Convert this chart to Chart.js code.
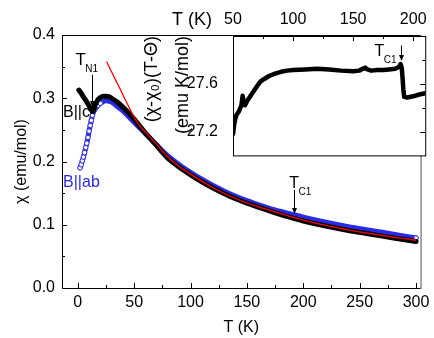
<!DOCTYPE html>
<html>
<head>
<meta charset="utf-8">
<script src="https://cdn.jsdelivr.net/npm/chart.js@4.4.1/dist/chart.umd.min.js"></script>
<style>
  html, body { margin: 0; padding: 0; background: #fff; }
  #wrap { position: relative; width: 434px; height: 338px; }
  #mainChart { position: absolute; left: 0; top: 0; }
  #insetChart { position: absolute; left: 130px; top: 0; }
</style>
</head>
<body>
<div id="wrap">
  <canvas id="mainChart" width="434" height="338"></canvas>
  <canvas id="insetChart" width="304" height="180"></canvas>
</div>
<script>
// main panel: chi(T) for B||ab, B||c and the fit
var tAb = [2, 3, 4, 5, 6, 7, 8, 9, 10, 11, 12, 13, 14, 15, 16, 17, 18, 20, 22, 24, 26, 28, 30,
    35, 40, 45, 50, 55, 60, 65, 70, 75, 80, 90, 100, 110, 120, 130, 140, 150, 160, 170, 180,
    190, 200, 220, 240, 260, 280, 300];
var chiAb = [0.190, 0.195, 0.201, 0.207, 0.214, 0.222, 0.229, 0.238, 0.248, 0.257, 0.265, 0.273,
    0.279, 0.282, 0.285, 0.287, 0.289, 0.292, 0.294, 0.296, 0.296, 0.295, 0.294,
    0.287, 0.280, 0.271, 0.262, 0.253, 0.244, 0.235, 0.226, 0.217, 0.209, 0.195, 0.183, 0.172,
    0.162, 0.153, 0.145, 0.138, 0.132, 0.126, 0.121, 0.1165, 0.112, 0.104, 0.097, 0.091, 0.085, 0.079];

var tC = [1, 3, 5, 7, 9, 11, 13, 14, 15, 16, 17, 18, 20, 22, 25, 28, 30, 35, 40, 45, 50, 55, 60,
    65, 70, 75, 80, 90, 100, 110, 120, 130, 140, 150, 160, 170, 180, 190, 200, 220, 240, 260, 280, 300];
var chiC = [0.313, 0.308, 0.302, 0.297, 0.291, 0.285, 0.279, 0.282, 0.287, 0.292, 0.295, 0.298,
    0.301, 0.303, 0.303, 0.302, 0.300, 0.294, 0.286, 0.277, 0.267, 0.256, 0.245, 0.235, 0.225,
    0.2145, 0.205, 0.191, 0.179, 0.168, 0.158, 0.149, 0.141, 0.134, 0.128, 0.122, 0.116, 0.111,
    0.106, 0.098, 0.091, 0.085, 0.079, 0.0735];

var tFit = [25.5, 29, 33.5, 38, 42, 46.5, 51, 55, 60, 70, 80, 90, 100, 120, 140, 160, 180, 200, 220, 240, 260, 280, 300];
var chiFit = [0.358, 0.345, 0.329, 0.313, 0.298, 0.282, 0.267, 0.256, 0.2465, 0.227, 0.207,
    0.192, 0.180, 0.1585, 0.1415, 0.1285, 0.1175, 0.1075, 0.099, 0.092, 0.086, 0.0805, 0.0755];

var mainXTicks = [0, 50, 100, 150, 200, 250, 300];
var mainXMinor = [25, 75, 125, 175, 225, 275];
var mainYTicks = [0, 0.1, 0.2, 0.3, 0.4];
var mainYMinor = [0.05, 0.15, 0.25, 0.35];

// inset: (chi - chi0)(T - Theta) vs T
var tInset = [50, 51, 52, 53, 55, 57, 58, 59, 60, 62, 64, 66, 68, 70, 73, 76, 80, 85, 90, 95, 100,
    110, 120, 130, 140, 150, 155, 158, 160, 162, 165, 170, 175, 180, 185, 188,
    189.5, 190.5, 191.2, 191.8, 192.5, 195, 200, 205, 210];
var cwInset = [27.18, 27.26, 27.31, 27.34, 27.37, 27.42, 27.50, 27.44, 27.42, 27.46, 27.49, 27.52,
    27.55, 27.58, 27.62, 27.64, 27.665, 27.685, 27.70, 27.71, 27.715, 27.72, 27.725, 27.72, 27.71,
    27.705, 27.71, 27.725, 27.735, 27.72, 27.71, 27.715, 27.715, 27.72, 27.725, 27.74,
    27.765, 27.73, 27.64, 27.55, 27.49, 27.485, 27.495, 27.51, 27.52];

var insetXTicks = [50, 100, 150, 200];
var insetXMinor = [75, 125, 175];
var insetYTicks = [27.2, 27.6];
var insetYMinor = [27.4, 27.8];

var FONT = '"Liberation Sans", Arial, sans-serif';
var BLUE = '#2a2ae6';
Chart.defaults.font.family = FONT;
Chart.defaults.color = '#000';

function toPoints(xs, ys) {
    return xs.map(function (x, i) { return { x: x, y: ys[i] }; });
}

function setTicks(values) {
    return function (scale) {
        scale.ticks = values.map(function (v) { return { value: v }; });
    };
}

function drawTickMarks(chart, axisId, values, len, edge) {
    var ctx = chart.ctx, a = chart.chartArea, s = chart.scales[axisId];
    ctx.save();
    ctx.strokeStyle = '#000';
    ctx.lineWidth = 1;
    ctx.beginPath();
    values.forEach(function (v) {
        var p = Math.round(s.getPixelForValue(v)) + 0.5;
        if (edge === 'bottom') { ctx.moveTo(p, a.bottom); ctx.lineTo(p, a.bottom - len); }
        if (edge === 'top') { ctx.moveTo(p, a.top); ctx.lineTo(p, a.top + len); }
        if (edge === 'left') { ctx.moveTo(a.left, p); ctx.lineTo(a.left + len, p); }
        if (edge === 'right') { ctx.moveTo(a.right, p); ctx.lineTo(a.right - len, p); }
    });
    ctx.stroke();
    ctx.restore();
}

function subLabel(ctx, main, sub, x, y, size) {
    ctx.fillStyle = '#000';
    ctx.textBaseline = 'alphabetic';
    ctx.textAlign = 'left';
    ctx.font = size + 'px ' + FONT;
    ctx.fillText(main, x, y);
    var w = ctx.measureText(main).width;
    ctx.font = '10px ' + FONT;
    ctx.fillText(sub, x + w - 0.5, y + 7);
}

function downArrow(ctx, x, y0, y1) {
    ctx.save();
    ctx.strokeStyle = '#000';
    ctx.fillStyle = '#000';
    ctx.lineWidth = 1;
    x = Math.round(x) + 0.5;
    ctx.beginPath();
    ctx.moveTo(x, y0);
    ctx.lineTo(x, y1 - 5);
    ctx.stroke();
    ctx.beginPath();
    ctx.moveTo(x - 2.5, y1 - 6);
    ctx.lineTo(x + 2.5, y1 - 6);
    ctx.lineTo(x, y1);
    ctx.closePath();
    ctx.fill();
    ctx.restore();
}

var mainDecor = {
    id: 'mainDecor',
    afterDraw: function (chart) {
        var ctx = chart.ctx, a = chart.chartArea;
        var xs = chart.scales.x, ys = chart.scales.y;
        ctx.save();
        ctx.strokeStyle = '#000';
        ctx.lineWidth = 1;
        ctx.beginPath();
        ctx.moveTo(a.right, a.top + 0.5);
        ctx.lineTo(a.left + 0.5, a.top + 0.5);
        ctx.lineTo(a.left + 0.5, a.bottom + 0.5);
        ctx.lineTo(a.right, a.bottom + 0.5);
        ctx.stroke();
        ctx.strokeStyle = '#8a8a8a';
        ctx.lineWidth = 1.5;
        ctx.beginPath();
        ctx.moveTo(a.right + 0.5, a.top);
        ctx.lineTo(a.right + 0.5, a.bottom + 1);
        ctx.stroke();
        ctx.restore();

        drawTickMarks(chart, 'x', mainXTicks, 5, 'bottom');
        drawTickMarks(chart, 'x', mainXMinor, 3, 'bottom');
        drawTickMarks(chart, 'y', mainYTicks, 5, 'left');
        drawTickMarks(chart, 'y', mainYMinor, 3, 'left');

        // T_N1 marker
        var nx = xs.getPixelForValue(13);
        var ny0 = ys.getPixelForValue(0.337);
        downArrow(ctx, nx, ny0, ys.getPixelForValue(0.286));
        subLabel(ctx, 'T', 'N1', nx - 17, ny0 - 10, 17);

        // T_C1 marker
        var cx = xs.getPixelForValue(192);
        var cy0 = ys.getPixelForValue(0.155);
        downArrow(ctx, cx, cy0, ys.getPixelForValue(0.117));
        subLabel(ctx, 'T', 'C1', cx - 5, cy0 - 1.5, 16);

        ctx.font = '16px ' + FONT;
        ctx.textAlign = 'left';
        ctx.textBaseline = 'alphabetic';
        ctx.fillStyle = '#000';
        ctx.fillText('B||c', a.left + 1, ys.getPixelForValue(0.271));
        ctx.fillStyle = BLUE;
        ctx.fillText('B||ab', a.left + 1, ys.getPixelForValue(0.160));
    }
};

var insetDecor = {
    id: 'insetDecor',
    beforeDatasetsDraw: function (chart) {
        var ctx = chart.ctx, a = chart.chartArea;
        ctx.save();
        ctx.fillStyle = '#fff';
        ctx.fillRect(a.left, a.top, a.right - a.left, a.bottom - a.top);
        ctx.restore();
    },
    afterDraw: function (chart) {
        var ctx = chart.ctx, a = chart.chartArea;
        var xs = chart.scales.x, ys = chart.scales.y;
        ctx.save();
        ctx.strokeStyle = '#000';
        ctx.lineWidth = 1;
        ctx.strokeRect(a.left + 0.5, a.top + 0.5, a.right - a.left, a.bottom - a.top);
        ctx.restore();

        drawTickMarks(chart, 'x', insetXTicks, 5, 'top');
        drawTickMarks(chart, 'x', insetXMinor, 3, 'top');
        drawTickMarks(chart, 'y', insetYTicks, 5, 'right');
        drawTickMarks(chart, 'y', insetYMinor, 3, 'right');

        ctx.save();
        ctx.font = '18px ' + FONT;
        ctx.fillStyle = '#000';
        ctx.textAlign = 'right';
        ctx.textBaseline = 'alphabetic';
        ctx.fillText('T (K)', a.left - 21, 24.5);
        ctx.restore();

        // T_C1 marker
        var cx = xs.getPixelForValue(189.5);
        var cy0 = ys.getPixelForValue(27.92);
        downArrow(ctx, cx, cy0, ys.getPixelForValue(27.79));
        subLabel(ctx, 'T', 'C1', cx - 26, cy0 + 10.5, 16);
    }
};

var mainChart = new Chart(document.getElementById('mainChart').getContext('2d'), {
    type: 'scatter',
    data: {
        datasets: [{
            label: 'fit',
            data: toPoints(tFit, chiFit),
            showLine: true,
            borderColor: '#ff0000',
            borderWidth: 1.3,
            pointRadius: 0,
            cubicInterpolationMode: 'monotone',
            order: 0
        }, {
            label: 'B||c',
            data: toPoints(tC, chiC),
            showLine: true,
            borderColor: '#000',
            borderWidth: 5,
            borderCapStyle: 'round',
            borderJoinStyle: 'round',
            pointRadius: 0,
            tension: 0.3,
            order: 1
        }, {
            label: 'B||ab',
            data: toPoints(tAb, chiAb),
            showLine: true,
            borderColor: BLUE,
            borderWidth: 5,
            borderCapStyle: 'round',
            borderJoinStyle: 'round',
            pointRadius: function (c) {
                var x = c.raw ? c.raw.x : 0;
                return (x <= 20 || x === 300) ? 2.3 : 0;
            },
            pointBackgroundColor: '#fff',
            pointBorderColor: BLUE,
            pointBorderWidth: 1,
            cubicInterpolationMode: 'monotone',
            order: 2
        }]
    },
    options: {
        responsive: false,
        animation: false,
        devicePixelRatio: 1,
        layout: { padding: { top: 35, right: 7, left: 0, bottom: 0 } },
        plugins: { legend: { display: false }, tooltip: { enabled: false } },
        scales: {
            x: {
                type: 'linear',
                min: -14,
                max: 304,
                afterBuildTicks: setTicks(mainXTicks),
                afterFit: function (s) { s.height = 50; },
                grid: { display: false, drawTicks: false },
                border: { display: false },
                ticks: { padding: 4.5, font: { size: 16 }, color: '#000' },
                title: { display: true, text: 'T (K)', font: { size: 16 }, padding: { top: 0, bottom: 1 }, color: '#000' }
            },
            y: {
                type: 'linear',
                min: 0,
                max: 0.4,
                afterBuildTicks: setTicks(mainYTicks),
                afterFit: function (s) { s.width = 62; },
                grid: { display: false, drawTicks: false },
                border: { display: false },
                ticks: {
                    padding: 7, font: { size: 16 }, color: '#000',
                    callback: function (v) { return v.toFixed(1); }
                },
                title: { display: true, text: 'χ (emu/mol)', font: { size: 16 }, padding: { top: 12.4, bottom: 0 }, color: '#000' }
            }
        }
    },
    plugins: [mainDecor]
});

var insetChart = new Chart(document.getElementById('insetChart').getContext('2d'), {
    type: 'scatter',
    data: {
        datasets: [{
            label: 'inset',
            data: toPoints(tInset, cwInset),
            showLine: true,
            borderColor: '#000',
            borderWidth: 4.5,
            borderCapStyle: 'round',
            borderJoinStyle: 'round',
            pointRadius: 0,
            tension: 0
        }]
    },
    options: {
        responsive: false,
        animation: false,
        devicePixelRatio: 1,
        layout: { padding: { top: 0, right: 7, left: 0, bottom: 10 } },
        plugins: { legend: { display: false }, tooltip: { enabled: false } },
        scales: {
            x: {
                type: 'linear',
                position: 'top',
                min: 50,
                max: 210,
                afterBuildTicks: setTicks(insetXTicks),
                afterFit: function (s) { s.height = 36; },
                grid: { display: false, drawTicks: false },
                border: { display: false },
                ticks: { padding: 7, font: { size: 16 }, color: '#000' }
            },
            y: {
                type: 'linear',
                min: 27.0,
                max: 28.0,
                afterBuildTicks: setTicks(insetYTicks),
                afterFit: function (s) { s.width = 103; },
                grid: { display: false, drawTicks: false },
                border: { display: false },
                ticks: {
                    padding: 15, font: { size: 16 }, color: '#000',
                    callback: function (v) { return v.toFixed(1); }
                },
                title: {
                    display: true,
                    text: ['(χ-χ₀)(T-Θ)', '(emu K/mol)'],
                    align: 'end',
                    font: { size: 18, lineHeight: 1.7 },
                    padding: { top: 7.2, bottom: 0 },
                    color: '#000'
                }
            }
        }
    },
    plugins: [insetDecor]
});
</script>
</body>
</html>
